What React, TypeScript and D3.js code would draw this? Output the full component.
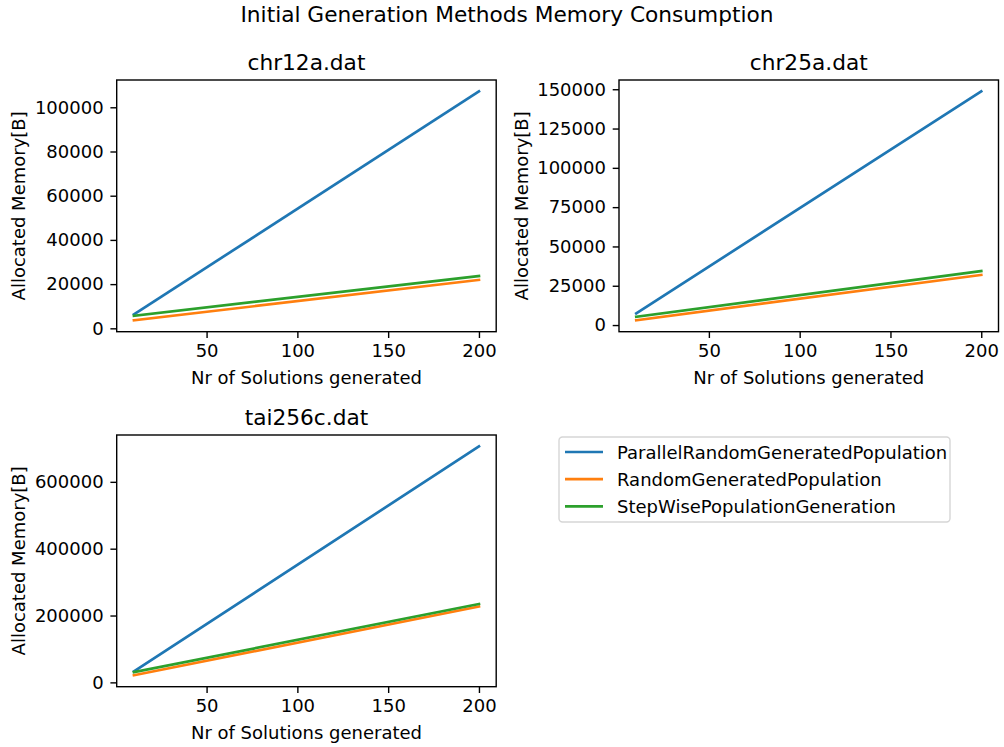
import React, { useEffect, useRef } from "react";
import * as d3 from "d3";

// number of solutions generated (first and last run)
const solutions = [10, 200];

const seriesNames = [
  "ParallelRandomGeneratedPopulation",
  "RandomGeneratedPopulation",
  "StepWisePopulationGeneration",
];
const colors = ["#1f77b4", "#ff7f0e", "#2ca02c"];

// allocated memory [B] per instance
const chr12aParallel = [6300, 107170];
const chr12aRandom = [3650, 21900];
const chr12aStepWise = [5700, 23700];

const chr25aParallel = [7450, 148600];
const chr25aRandom = [3050, 31900];
const chr25aStepWise = [5300, 34300];

const tai256cParallel = [33000, 705900];
const tai256cRandom = [21300, 227100];
const tai256cStepWise = [30600, 234600];

const chr12aTicks = [0, 20000, 40000, 60000, 80000, 100000];
const chr25aTicks = [0, 25000, 50000, 75000, 100000, 125000, 150000];
const tai256cTicks = [0, 200000, 400000, 600000];
const xTicks = [50, 100, 150, 200];

const panels = [
  { title: "chr12a.dat", series: [chr12aParallel, chr12aRandom, chr12aStepWise], ticks: chr12aTicks, left: 116.7, top: 80, ylabelX: 24.5 },
  { title: "chr25a.dat", series: [chr25aParallel, chr25aRandom, chr25aStepWise], ticks: chr25aTicks, left: 619, top: 80, ylabelX: 528 },
  { title: "tai256c.dat", series: [tai256cParallel, tai256cRandom, tai256cStepWise], ticks: tai256cTicks, left: 116.7, top: 435, ylabelX: 24.5 },
];

const W = 1004;
const H = 747;
const FONT = "DejaVu Sans, sans-serif";
const FS = 18;
const TITLE_FS = 21.7;

const App = () => {
  const svgRef = useRef<SVGSVGElement>(null);

  useEffect(() => {
    const svg = d3.select(svgRef.current);
    svg.selectAll("*").remove();
    svg.attr("width", W).attr("height", H);

    svg.append("rect").attr("width", W).attr("height", H).attr("fill", "white");

    svg.append("text")
      .attr("x", 507)
      .attr("y", 22)
      .attr("text-anchor", "middle")
      .attr("font-size", TITLE_FS)
      .attr("font-family", FONT)
      .text("Initial Generation Methods Memory Consumption");

    const pw = 379.5;
    const ph = 251.7;

    panels.forEach((p) => {
      const g = svg.append("g").attr("transform", `translate(${p.left},${p.top})`);

      const xMin = d3.min(solutions);
      const xMax = d3.max(solutions);
      const xPad = (xMax - xMin) * 0.05;
      const x = d3.scaleLinear().domain([xMin - xPad, xMax + xPad]).range([0, pw]);

      const all = p.series.flat();
      const yMin = d3.min(all);
      const yMax = d3.max(all);
      const yPad = (yMax - yMin) * 0.05;
      const y = d3.scaleLinear().domain([yMin - yPad, yMax + yPad]).range([ph, 0]);

      const line = d3.line<number>()
        .x((_, i) => x(solutions[i]))
        .y((d) => y(d));

      p.series.forEach((s, i) => {
        g.append("path")
          .datum(s)
          .attr("d", line)
          .attr("fill", "none")
          .attr("stroke", colors[i])
          .attr("stroke-width", 2.7)
          .attr("stroke-linecap", "square");
      });

      const xAxis = g.append("g")
        .attr("transform", `translate(0,${ph})`)
        .call(d3.axisBottom(x).tickValues(xTicks).tickSize(6.3).tickPadding(6.5).tickFormat(d3.format("d")));
      const yAxis = g.append("g")
        .call(d3.axisLeft(y).tickValues(p.ticks).tickSize(6.3).tickPadding(6.8).tickFormat(d3.format("d")));

      [xAxis, yAxis].forEach((a) => {
        a.select(".domain").remove();
        a.selectAll(".tick line").attr("stroke", "#000").attr("stroke-width", 1.4);
        a.selectAll(".tick text")
          .attr("font-size", FS)
          .attr("font-family", FONT)
          .attr("fill", "#000");
      });

      g.append("rect")
        .attr("width", pw)
        .attr("height", ph)
        .attr("fill", "none")
        .attr("stroke", "#000")
        .attr("stroke-width", 1.4);

      g.append("text")
        .attr("x", pw / 2)
        .attr("y", -10.5)
        .attr("text-anchor", "middle")
        .attr("font-size", TITLE_FS)
        .attr("font-family", FONT)
        .text(p.title);

      g.append("text")
        .attr("x", pw / 2)
        .attr("y", ph + 52)
        .attr("text-anchor", "middle")
        .attr("font-size", FS)
        .attr("font-family", FONT)
        .text("Nr of Solutions generated");

      svg.append("text")
        .attr("transform", `translate(${p.ylabelX},${p.top + ph / 2}) rotate(-90)`)
        .attr("text-anchor", "middle")
        .attr("font-size", FS)
        .attr("font-family", FONT)
        .text("Allocated Memory[B]");
    });

    // legend
    const lg = svg.append("g").attr("transform", "translate(559,437)");
    lg.append("rect")
      .attr("width", 391)
      .attr("height", 85)
      .attr("rx", 3.5)
      .attr("fill", "white")
      .attr("stroke", "#d6d6d6")
      .attr("stroke-width", 1.4);
    seriesNames.forEach((name, i) => {
      const yy = 15 + i * 27.2;
      lg.append("line")
        .attr("x1", 6)
        .attr("x2", 44)
        .attr("y1", yy)
        .attr("y2", yy)
        .attr("stroke", colors[i])
        .attr("stroke-width", 2.7);
      lg.append("text")
        .attr("x", 58)
        .attr("y", yy + 6.5)
        .attr("font-size", FS)
        .attr("font-family", FONT)
        .text(name);
    });
  }, []);

  return <svg ref={svgRef} style={{ position: "absolute", left: 0, top: 0 }}></svg>;
};

export default App;
